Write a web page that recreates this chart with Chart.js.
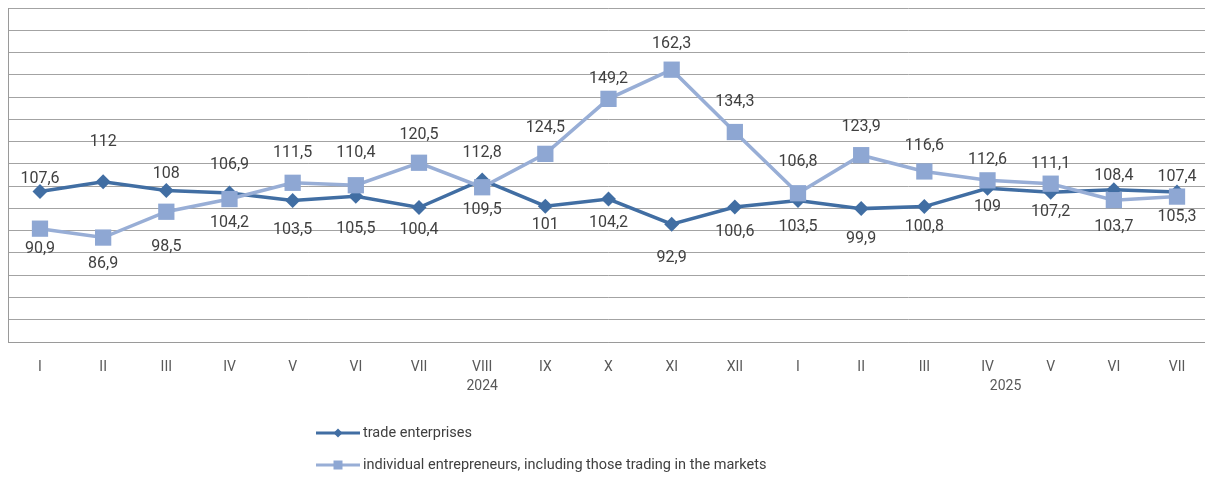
<!DOCTYPE html>
<html>
<head>
<meta charset="utf-8">
<script src="https://cdn.jsdelivr.net/npm/chart.js@4.4.1/dist/chart.umd.min.js"></script>
<style>
  html, body { margin: 0; padding: 0; background: #fff; overflow: hidden; }
  #wrap { position: relative; width: 1205px; height: 479px; overflow: hidden; }
  #chart { display: block; }
</style>
</head>
<body>
<div id="wrap"><canvas id="chart" width="1212" height="479"></canvas></div>
<script>
const months = ['I', 'II', 'III', 'IV', 'V', 'VI', 'VII', 'VIII', 'IX', 'X', 'XI', 'XII',
  'I', 'II', 'III', 'IV', 'V', 'VI', 'VII'];
// year captions and the month index they sit under
const years = ['2024', '2025'];
const yearAt = [7, 15];

const tradeEnterprises = [107.6, 112, 108, 106.9, 103.5, 105.5, 100.4, 112.8, 101, 104.2, 92.9, 100.6,
  103.5, 99.9, 100.8, 109, 107.2, 108.4, 107.4];
const individualEntrepreneurs = [90.9, 86.9, 98.5, 104.2, 111.5, 110.4, 120.5, 109.5, 124.5, 149.2, 162.3, 134.3,
  106.8, 123.9, 116.6, 112.6, 111.1, 103.7, 105.3];

const seriesNames = ['trade enterprises', 'individual entrepreneurs, including those trading in the markets'];

// label offsets in px from the point (layout only)
const tradeLabelDy = [-12, -40, -17, -28, 29, 33, 22, -27, 19, 24, 34, 25, 26, 30, 20, 19, 20, -14, -15];
const indivLabelDy = [20, 26, 35, 24, -30, -32, -28, 23, -26, -20, -26, -30, -31, -28, -25, -20, -20, 27, 20];
const yearDx = [0, 18];

const darkBlue = '#416ea3';
const lightBlue = '#98aed6';

const valueLabels = {
  id: 'valueLabels',
  afterDatasetsDraw(chart) {
    const ctx = chart.ctx;
    ctx.save();
    ctx.font = '16px Roboto';
    ctx.fillStyle = '#404040';
    ctx.textAlign = 'center';
    ctx.textBaseline = 'middle';
    chart.data.datasets.forEach((ds, i) => {
      const meta = chart.getDatasetMeta(i);
      meta.data.forEach((pt, j) => {
        const txt = String(ds.data[j]).replace('.', ',');
        ctx.fillText(txt, pt.x, pt.y + ds.labelDy[j]);
      });
    });
    ctx.restore();
  }
};

// second row of the category axis: the years
const yearLabels = {
  id: 'yearLabels',
  afterDraw(chart) {
    const ctx = chart.ctx;
    const xs = chart.scales.x;
    ctx.save();
    ctx.font = '14px Roboto';
    ctx.fillStyle = '#595959';
    ctx.textAlign = 'center';
    ctx.textBaseline = 'middle';
    years.forEach((y, i) => {
      ctx.fillText(y, xs.getPixelForValue(yearAt[i]) + yearDx[i], 386);
    });
    ctx.restore();
  }
};

// legend stacked under the chart, line with marker in the middle
const stackedLegend = {
  id: 'stackedLegend',
  afterDraw(chart) {
    const ctx = chart.ctx;
    const rows = [433, 465];
    ctx.save();
    chart.data.datasets.forEach((ds, i) => {
      const y = rows[i];
      ctx.strokeStyle = ds.borderColor;
      ctx.lineWidth = 3;
      ctx.beginPath();
      ctx.moveTo(316, y);
      ctx.lineTo(360, y);
      ctx.stroke();
      ctx.fillStyle = ds.pointBackgroundColor;
      ctx.beginPath();
      if (i === 0) {
        ctx.moveTo(338, y - 4.5); ctx.lineTo(342.5, y); ctx.lineTo(338, y + 4.5); ctx.lineTo(333.5, y);
        ctx.closePath();
      } else {
        ctx.rect(333.5, y - 4.5, 9, 9);
      }
      ctx.fill();
      ctx.fillStyle = '#404040';
      ctx.font = '14.5px Roboto';
      ctx.textBaseline = 'middle';
      ctx.fillText(seriesNames[i], 363, y);
    });
    ctx.restore();
  }
};

new Chart(document.getElementById('chart'), {
  type: 'line',
  data: {
    labels: months,
    datasets: [
      {
        label: seriesNames[0],
        data: tradeEnterprises,
        labelDy: tradeLabelDy,
        borderColor: darkBlue,
        backgroundColor: darkBlue,
        pointBackgroundColor: darkBlue,
        pointBorderColor: darkBlue,
        borderWidth: 3.5,
        pointStyle: 'rectRot',
        pointRadius: 7.5,
        pointBorderWidth: 0,
        tension: 0,
        order: 1
      },
      {
        label: seriesNames[1],
        data: individualEntrepreneurs,
        labelDy: indivLabelDy,
        borderColor: lightBlue,
        backgroundColor: '#8ea7d3',
        pointBackgroundColor: '#8ea7d3',
        pointBorderColor: '#8ea7d3',
        borderWidth: 3.5,
        pointStyle: 'rect',
        pointRadius: 11.5,
        pointBorderWidth: 0,
        tension: 0,
        order: 0
      }
    ]
  },
  options: {
    responsive: false,
    animation: false,
    layout: { autoPadding: false, padding: { left: 8.4, top: 8, right: 3.4, bottom: 0 } },
    plugins: {
      legend: { display: false },
      tooltip: { enabled: false }
    },
    scales: {
      x: {
        offset: true,
        grid: { display: false, drawTicks: false },
        border: { display: true, color: '#9a9a9a', width: 1 },
        ticks: {
          color: '#595959',
          font: { family: 'Roboto', size: 14, lineHeight: 1.45 },
          padding: 15,
          maxRotation: 0,
          autoSkip: false
        },
        afterFit(scale) {
          scale.height = 137;
          scale.paddingLeft = 0;
          scale.paddingRight = 0;
        }
      },
      y: {
        min: 40,
        max: 190,
        ticks: { display: false, stepSize: 10 },
        grid: { color: '#a3a3a3', lineWidth: 1, drawTicks: false },
        border: { display: true, color: '#9a9a9a', width: 1 },
        afterFit(scale) {
          scale.width = 0;
          scale.paddingTop = 0;
          scale.paddingBottom = 0;
        }
      }
    }
  },
  plugins: [valueLabels, yearLabels, stackedLegend]
});
</script>
</body>
</html>
